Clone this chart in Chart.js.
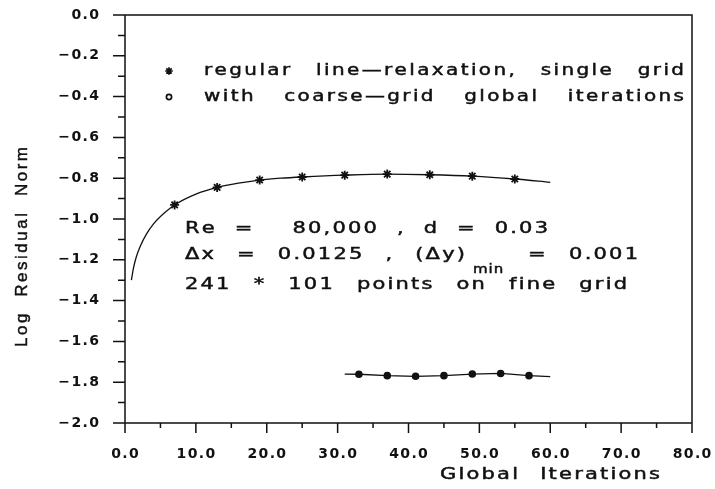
<!DOCTYPE html>
<html>
<head>
<meta charset="utf-8">
<script src="https://cdn.jsdelivr.net/npm/chart.js@4.4.1/dist/chart.umd.min.js"></script>
<style>
  html, body { margin: 0; padding: 0; background: #fff; }
  #wrap { width: 715px; height: 489px; }
</style>
</head>
<body>
<div id="wrap"><canvas id="residualChart"></canvas></div>
<script>
// regular line-relaxation, single grid (curve + asterisk markers)
const singleIters  = [0.9, 1.2, 1.6, 2.2, 3.0, 4.0, 5.5, 7, 10, 13, 16, 19, 22, 25, 31, 37, 43, 49, 55, 60];
const singleLogRes = [-1.30, -1.24, -1.185, -1.13, -1.075, -1.025, -0.972, -0.931, -0.878, -0.845, -0.824, -0.809, -0.80, -0.794, -0.785, -0.78, -0.783, -0.79, -0.804, -0.82];
const singleMarked = [7, 13, 19, 25, 31, 37, 43, 49, 55];

// with coarse-grid global iterations (line + dots)
const coarseIters  = [31, 33, 37, 41, 45, 49, 53, 57, 60];
const coarseLogRes = [-1.760, -1.761, -1.768, -1.771, -1.768, -1.760, -1.757, -1.768, -1.773];
const coarseMarked = [33, 37, 41, 45, 49, 53, 57];

const xMajor = [0, 10, 20, 30, 40, 50, 60, 70, 80];
const xMinor = [5, 15, 25, 35, 45, 55, 65, 75];
const yMajor = [0, -0.2, -0.4, -0.6, -0.8, -1.0, -1.2, -1.4, -1.6, -1.8, -2.0];
const yMinor = [-0.1, -0.3, -0.5, -0.7, -0.9, -1.1, -1.3, -1.5, -1.7, -1.9];

const INK = '#111';
const PLOT_FONT = '"DejaVu Sans", sans-serif';

function toPoints(xs, ys) {
  return xs.map((x, i) => ({ x: x, y: ys[i] }));
}

// tick label with hair spaces between characters, like the plotter lettering
function fmt(v) {
  const s = Math.abs(v).toFixed(1);
  return Array.from(v < 0 ? '\u2212' + s : s).join('\u200A');
}

// plotter-style text drawn glyph by glyph: stretched letters with extra
// tracking, words spread so the line spans `width` px (space runs weight the gaps)
function plotText(ctx, str, x, y, width, o) {
  const size = o.size || 15, sx = o.sx || 1.4, ls = o.ls == null ? 2.2 : o.ls;
  ctx.font = (o.weight || 'normal') + ' ' + size + 'px ' + (o.family || PLOT_FONT);
  ctx.textAlign = 'left';
  ctx.textBaseline = 'middle';
  ctx.lineWidth = o.stroke == null ? 0.45 : o.stroke;
  const parts = str.split(/( +)/).filter(p => p.length);
  const wordWidth = p => {
    const chars = Array.from(p);
    return chars.reduce((w, ch) => w + ctx.measureText(ch).width * sx, 0) + ls * (chars.length - 1);
  };
  let used = 0, gaps = 0;
  parts.forEach(p => {
    if (p[0] === ' ') gaps += p.length;
    else used += wordWidth(p);
  });
  const unit = gaps ? (width - used) / gaps : 0;
  let cx = x;
  parts.forEach(p => {
    if (p[0] === ' ') { cx += unit * p.length; return; }
    Array.from(p).forEach(ch => {
      ctx.save();
      ctx.translate(cx, y);
      ctx.scale(sx, 1);
      ctx.fillText(ch, 0, 0);
      if (ctx.lineWidth > 0.01) ctx.strokeText(ch, 0, 0);
      ctx.restore();
      cx += ctx.measureText(ch).width * sx + ls;
    });
    cx -= ls;
  });
}

function asterisk(ctx, x, y, r) {
  ctx.beginPath();
  for (let k = 0; k < 4; k++) {
    const a = k * Math.PI / 4;
    ctx.moveTo(x - r * Math.cos(a), y - r * Math.sin(a));
    ctx.lineTo(x + r * Math.cos(a), y + r * Math.sin(a));
  }
  ctx.stroke();
}

const framePlugin = {
  id: 'frame',
  afterDraw(chart) {
    const { ctx, chartArea: a, scales: { x, y } } = chart;
    ctx.save();
    ctx.strokeStyle = INK;
    ctx.fillStyle = INK;
    ctx.lineWidth = 1.5;

    // box and tick marks
    ctx.beginPath();
    ctx.rect(a.left, a.top, a.right - a.left, a.bottom - a.top);
    yMajor.forEach(v => { const p = y.getPixelForValue(v); ctx.moveTo(a.left - 12, p); ctx.lineTo(a.left, p); });
    yMinor.forEach(v => { const p = y.getPixelForValue(v); ctx.moveTo(a.left - 7, p); ctx.lineTo(a.left, p); });
    xMajor.forEach(v => { const p = x.getPixelForValue(v); ctx.moveTo(p, a.bottom); ctx.lineTo(p, a.bottom + 10); });
    xMinor.forEach(v => { const p = x.getPixelForValue(v); ctx.moveTo(p, a.bottom); ctx.lineTo(p, a.bottom + 5); });
    ctx.stroke();

    // legend symbols
    ctx.lineWidth = 1.7;
    asterisk(ctx, 169, 71, 3.8);
    ctx.beginPath();
    ctx.arc(169, 97, 2.6, 0, Math.PI * 2);
    ctx.stroke();

    // axis titles
    plotText(ctx, 'Global Iterations', 440, 475, 220, {});
    ctx.save();
    ctx.translate(22, 247);
    ctx.rotate(-Math.PI / 2);
    plotText(ctx, 'Log Residual Norm', -100, 0, 200,
      { size: 17, sx: 1, ls: 2.5, stroke: 0, family: '"Liberation Sans", Arial, sans-serif' });
    ctx.restore();

    // legend text
    plotText(ctx, 'regular line\u2014relaxation, single grid', 204, 71, 480, { sx: 1.33, ls: 2.4 });
    plotText(ctx, 'with coarse\u2014grid global iterations', 204, 97, 480, { sx: 1.33, ls: 2.4 });

    // run parameters
    plotText(ctx, 'Re  =    80,000  ,  d  =  0.03', 185, 229, 363, {});
    plotText(ctx, '\u0394x  =  0.0125  ,  (\u0394y)', 185, 255, 280, {});
    plotText(ctx, 'min', 473, 270, 34, { size: 12, sx: 1.25, ls: 1 });
    plotText(ctx, '=  0.001', 528, 255, 110, {});
    plotText(ctx, '241  *  101  points  on  fine  grid', 185, 285, 442, {});
    ctx.restore();
  }
};

const ctx = document.getElementById('residualChart').getContext('2d');
const residualChart = new Chart(ctx, {
  type: 'scatter',
  data: {
    datasets: [{
      label: 'regular line-relaxation, single grid',
      data: toPoints(singleIters, singleLogRes),
      showLine: true,
      cubicInterpolationMode: 'monotone',
      borderColor: INK,
      borderWidth: 1.3,
      pointStyle: 'star',
      pointRadius: c => singleMarked.includes(c.raw.x) ? 4.5 : 0,
      pointBorderWidth: 1.8,
      pointBorderColor: INK,
      pointBackgroundColor: INK
    }, {
      label: 'with coarse-grid global iterations',
      data: toPoints(coarseIters, coarseLogRes),
      showLine: true,
      tension: 0,
      borderColor: INK,
      borderWidth: 1.3,
      pointStyle: 'circle',
      pointRadius: c => coarseMarked.includes(c.raw.x) ? 3.8 : 0,
      pointBorderWidth: 0,
      pointBackgroundColor: INK
    }]
  },
  options: {
    responsive: true,
    maintainAspectRatio: false,
    animation: false,
    events: [],
    layout: { padding: { left: 0, top: 15, right: 23, bottom: 0 } },
    plugins: {
      legend: { display: false },
      tooltip: { enabled: false }
    },
    scales: {
      x: {
        type: 'linear',
        min: 0,
        max: 80,
        afterBuildTicks: s => { s.ticks = xMajor.map(v => ({ value: v })); },
        afterFit: s => { s.height = 66; s.paddingLeft = 0; s.paddingRight = 0; },
        grid: { drawOnChartArea: false, drawTicks: false },
        border: { display: false },
        ticks: {
          padding: 23,
          color: INK,
          font: { family: PLOT_FONT, size: 14, weight: 'bold' },
          callback: v => fmt(v)
        }
      },
      y: {
        type: 'linear',
        min: -2,
        max: 0,
        afterBuildTicks: s => { s.ticks = yMajor.map(v => ({ value: v })); },
        afterFit: s => { s.width = 125; s.paddingTop = 0; s.paddingBottom = 0; },
        grid: { drawOnChartArea: false, drawTicks: false },
        border: { display: false },
        ticks: {
          padding: 26,
          color: INK,
          font: { family: PLOT_FONT, size: 14, weight: 'bold' },
          callback: v => fmt(v)
        }
      }
    }
  },
  plugins: [framePlugin]
});
</script>
</body>
</html>
